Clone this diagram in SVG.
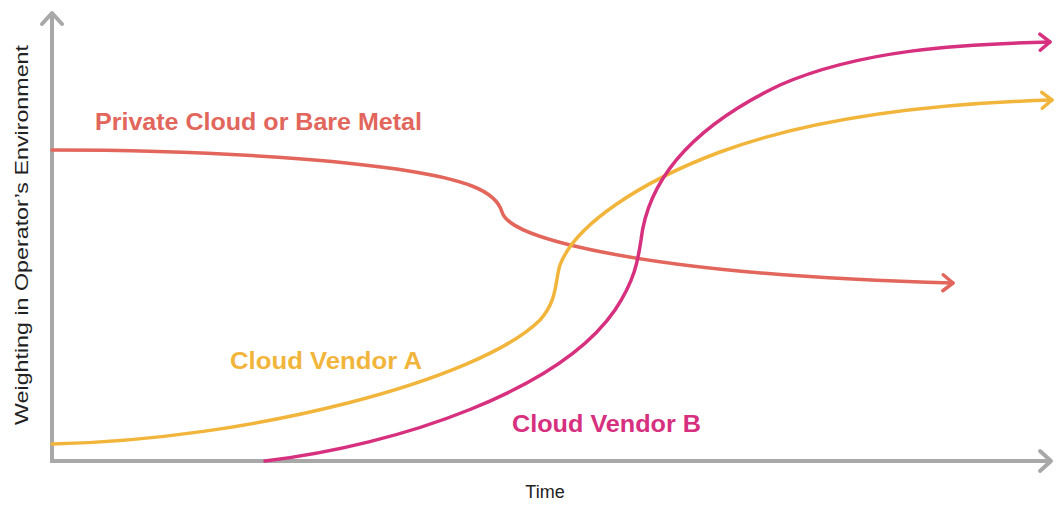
<svg xmlns="http://www.w3.org/2000/svg" width="1056" height="506" viewBox="0 0 1056 506">
<style>
.axis{fill:none;stroke:#a8a8a8;stroke-width:4}
.curve{fill:none;stroke-width:3.5;stroke-linecap:round}
.lbl{font-family:"Liberation Sans",Arial,sans-serif;font-weight:bold;font-size:23px}
.ax{font-family:"Liberation Sans",Arial,sans-serif;font-size:18px;fill:#222}
</style>
<defs>
<marker id="arA" markerUnits="userSpaceOnUse" markerWidth="30" markerHeight="30" viewBox="-15 -15 30 30" orient="auto" overflow="visible">
<path d="M-11,-10 L0,0 L-11,10" fill="none" stroke="#a8a8a8" stroke-width="4" stroke-linecap="round" stroke-linejoin="round"/>
</marker>
<marker id="arR" markerUnits="userSpaceOnUse" markerWidth="30" markerHeight="30" viewBox="-15 -15 30 30" orient="auto" overflow="visible">
<path d="M-10,-8 L0,0 L-10,8" fill="none" stroke="#e2665c" stroke-width="3.5" stroke-linecap="round" stroke-linejoin="round"/>
</marker>
<marker id="arY" markerUnits="userSpaceOnUse" markerWidth="30" markerHeight="30" viewBox="-15 -15 30 30" orient="auto" overflow="visible">
<path d="M-10,-8 L0,0 L-10,8" fill="none" stroke="#f2b53c" stroke-width="3.5" stroke-linecap="round" stroke-linejoin="round"/>
</marker>
<marker id="arM" markerUnits="userSpaceOnUse" markerWidth="30" markerHeight="30" viewBox="-15 -15 30 30" orient="auto" overflow="visible">
<path d="M-10,-8 L0,0 L-10,8" fill="none" stroke="#d6307f" stroke-width="3.5" stroke-linecap="round" stroke-linejoin="round"/>
</marker>
</defs>
<rect width="1056" height="506" fill="#fff"/>
<g id="axes">
<path class="axis" d="M52,461 L52,13" marker-end="url(#arA)"/>
<path class="axis" d="M50,461 L1051,461" marker-end="url(#arA)"/>
<text class="ax" transform="translate(28,235) rotate(-90)" text-anchor="middle" textLength="380" lengthAdjust="spacingAndGlyphs">Weighting in Operator’s Environment</text>
<text class="ax" x="545" y="498" text-anchor="middle">Time</text>
</g>
<g id="connectors">
<path id="private" class="curve" stroke="#e2665c" d="M52,150 C220,150 410,162 472,186 C495,195 500,205 502,212 C506,225 530,235 570,245 C640,262 760,278 953,283" marker-end="url(#arR)"/>
<path id="vendorA" class="curve" stroke="#f2b53c" d="M52,444 C250,440 480,380 540,320 C558,300 555,280 560,265 C575,225 640,182 720,152 C820,115 950,103 1052,100" marker-end="url(#arY)"/>
<path id="vendorB" class="curve" stroke="#d6307f" d="M265,461 C400,445 560,390 615,310 C635,280 638,260 641,240 C648,180 690,128 780,85 C860,50 960,44 1050,42" marker-end="url(#arM)"/>
</g>
<g id="label-private"><text class="lbl" x="95" y="130" fill="#e2665c" textLength="327" lengthAdjust="spacingAndGlyphs">Private Cloud or Bare Metal</text></g>
<g id="label-a"><text class="lbl" x="230" y="369" fill="#f2b53c" textLength="192" lengthAdjust="spacingAndGlyphs">Cloud Vendor A</text></g>
<g id="label-b"><text class="lbl" x="512" y="432" fill="#d6307f" textLength="189" lengthAdjust="spacingAndGlyphs">Cloud Vendor B</text></g>
</svg>
